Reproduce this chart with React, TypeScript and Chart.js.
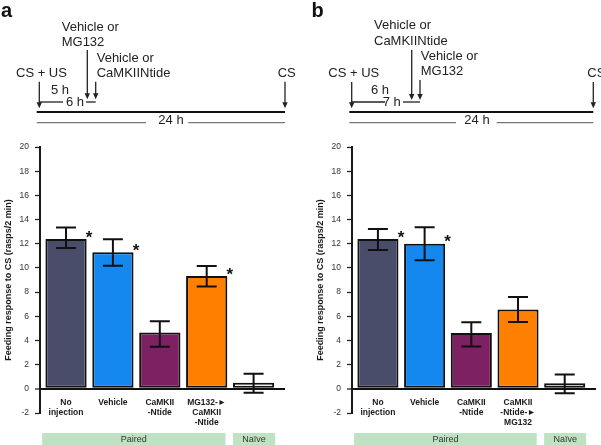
import React, { useEffect, useRef } from 'react';
import { Chart, registerables } from 'chart.js';

Chart.register(...registerables);

const FONT = "'Liberation Sans', Arial, Helvetica, sans-serif";

// ---- data ----
const labelsA: (string | string[])[] = [['No', 'injection'], 'Vehicle', ['CaMKII', '-Ntide'], ['MG132-►', 'CaMKII', '-Ntide'], ''];
const labelsB: (string | string[])[] = [['No', 'injection'], 'Vehicle', ['CaMKII', '-Ntide'], ['CaMKII', '-Ntide-►', 'MG132'], ''];
const meansA = [12.4, 11.3, 4.65, 9.33, 0.5];
const upperA = [13.35, 12.38, 5.58, 10.15, 1.24];
const lowerA = [11.65, 10.18, 3.48, 8.47, -0.33];
const starsA = [true, true, false, true, false];
const meansB = [12.4, 12.0, 4.62, 6.57, 0.47];
const upperB = [13.22, 13.36, 5.5, 7.6, 1.19];
const lowerB = [11.48, 10.63, 3.5, 5.52, -0.36];
const starsB = [true, true, false, false, false];
const barColors = ['#4a4d6a', '#1488ee', '#7d2163', '#ff8000', '#ffffff'];
const yMin = -2;
const yMax = 20;
const yStep = 2;
const groupNames = ['Paired', 'Naïve'];
const groupFrom = [-0.51, 3.56];
const groupTo = [3.4, 4.46];
const yTitle = 'Feeding response to CS (rasps/2 min)';

// ---- timeline annotations (layout) ----
type Txt = [string, number, number, CanvasTextAlign];
type Timeline = {
  letter: [string, number];
  texts: Txt[];
  arrows: [number, number, number][];
  thin: [number, number, number][];
  thick: [number, number, number];
  gray: [number, number, number][];
};

const timelineA: Timeline = {
  letter: ['a', 1],
  texts: [
    ['Vehicle or', 61.7, 30.7, 'left'],
    ['MG132', 61.7, 46, 'left'],
    ['Vehicle or', 96.7, 62.3, 'left'],
    ['CaMKIINtide', 96.7, 77.3, 'left'],
    ['CS + US', 16, 77.3, 'left'],
    ['CS', 277.7, 77.3, 'left'],
    ['5 h', 60, 94.3, 'center'],
    ['6 h', 75, 106, 'center'],
    ['24 h', 171, 124.3, 'center'],
  ],
  arrows: [[39.3, 81.7, 108.3], [87.3, 50, 99.3], [95.7, 81.7, 99.3], [285, 81.7, 108.3]],
  thin: [[39.3, 63, 102], [86, 95.7, 102]],
  thick: [36.7, 285, 112],
  gray: [[36.7, 146, 122.7], [188.3, 285, 122.7]],
};

const timelineB: Timeline = {
  letter: ['b', 11.5],
  texts: [
    ['Vehicle or', 74, 29.3, 'left'],
    ['CaMKIINtide', 74, 45, 'left'],
    ['Vehicle or', 120.7, 60, 'left'],
    ['MG132', 120.7, 75.3, 'left'],
    ['CS + US', 28.3, 77.3, 'left'],
    ['CS', 287.3, 77.3, 'left'],
    ['6 h', 80, 94, 'center'],
    ['7 h', 91.7, 106, 'center'],
    ['24 h', 177, 124.3, 'center'],
  ],
  arrows: [[51.7, 82, 108.3], [111.7, 50, 100], [120, 80, 100], [293.3, 82, 108.3]],
  thin: [[51.7, 85, 102], [103, 120, 102]],
  thick: [49.3, 293.3, 112],
  gray: [[49.3, 156, 122.7], [196.7, 293.3, 122.7]],
};

type PanelCfg = {
  labels: (string | string[])[];
  means: number[];
  upper: number[];
  lower: number[];
  stars: boolean[];
  timeline: Timeline;
  padLeft: number;
  padRight: number;
  width: number;
  left: number;
};

const panels: PanelCfg[] = [
  { labels: labelsA, means: meansA, upper: upperA, lower: lowerA, stars: starsA, timeline: timelineA, padLeft: 0, padRight: 15, width: 300, left: 0 },
  { labels: labelsB, means: meansB, upper: upperB, lower: lowerB, stars: starsB, timeline: timelineB, padLeft: 12, padRight: 5, width: 301, left: 300 },
];

function makePlugin(cfg: PanelCfg) {
  return {
    id: 'extras',
    afterDatasetsDraw(chart: any) {
      const ctx: CanvasRenderingContext2D = chart.ctx;
      const ys = chart.scales.y;
      const meta = chart.getDatasetMeta(0);
      ctx.save();
      ctx.strokeStyle = '#111';
      ctx.lineWidth = 2;
      meta.data.forEach((bar: any, i: number) => {
        const x = bar.x;
        const yt = ys.getPixelForValue(cfg.upper[i]);
        const yb = ys.getPixelForValue(cfg.lower[i]);
        ctx.beginPath();
        ctx.moveTo(x, yt);
        ctx.lineTo(x, yb);
        ctx.moveTo(x - 10, yt);
        ctx.lineTo(x + 10, yt);
        ctx.moveTo(x - 10, yb);
        ctx.lineTo(x + 10, yb);
        ctx.stroke();
        if (cfg.stars[i]) {
          ctx.fillStyle = '#111';
          ctx.font = `bold 17px ${FONT}`;
          ctx.textAlign = 'center';
          ctx.textBaseline = 'alphabetic';
          ctx.fillText('*', x + bar.width / 2 + 2.5, bar.y - 5.8 + 9.5);
        }
      });
      ctx.restore();
    },
    afterDraw(chart: any) {
      const ctx: CanvasRenderingContext2D = chart.ctx;
      const xs = chart.scales.x;
      ctx.save();
      // group boxes
      groupNames.forEach((name, g) => {
        const x1 = xs.getPixelForValue(groupFrom[g]);
        const x2 = xs.getPixelForValue(groupTo[g]);
        ctx.fillStyle = '#bfe3c2';
        ctx.fillRect(x1, 433, x2 - x1, 12);
        ctx.fillStyle = '#333';
        ctx.font = `9px ${FONT}`;
        ctx.textAlign = 'center';
        ctx.textBaseline = 'middle';
        ctx.fillText(name, (x1 + x2) / 2, 439.5);
      });
      // timeline
      const t = cfg.timeline;
      ctx.fillStyle = '#111';
      ctx.font = `bold 20px ${FONT}`;
      ctx.textAlign = 'left';
      ctx.textBaseline = 'alphabetic';
      ctx.fillText(t.letter[0], t.letter[1], 17);
      ctx.font = `13px ${FONT}`;
      ctx.fillStyle = '#222';
      t.texts.forEach(([s, x, y, a]) => {
        ctx.textAlign = a;
        ctx.fillText(s, x, y);
      });
      ctx.strokeStyle = '#222';
      ctx.lineWidth = 1.3;
      t.arrows.forEach(([x, y1, y2]) => {
        ctx.beginPath();
        ctx.moveTo(x, y1);
        ctx.lineTo(x, y2 - 5);
        ctx.stroke();
        ctx.beginPath();
        ctx.moveTo(x - 2.7, y2 - 6);
        ctx.lineTo(x + 2.7, y2 - 6);
        ctx.lineTo(x, y2);
        ctx.closePath();
        ctx.fill();
      });
      t.thin.forEach(([x1, x2, y]) => {
        ctx.beginPath();
        ctx.moveTo(x1, y);
        ctx.lineTo(x2, y);
        ctx.stroke();
      });
      ctx.lineWidth = 2.2;
      ctx.strokeStyle = '#111';
      ctx.beginPath();
      ctx.moveTo(t.thick[0], t.thick[2]);
      ctx.lineTo(t.thick[1], t.thick[2]);
      ctx.stroke();
      ctx.lineWidth = 1.3;
      ctx.strokeStyle = '#777';
      t.gray.forEach(([x1, x2, y]) => {
        ctx.beginPath();
        ctx.moveTo(x1, y);
        ctx.lineTo(x2, y);
        ctx.stroke();
      });
      ctx.restore();
    },
  };
}

function Panel({ cfg }: { cfg: PanelCfg }) {
  const ref = useRef<HTMLCanvasElement>(null);
  useEffect(() => {
    const chart = new Chart(ref.current as HTMLCanvasElement, {
      type: 'bar',
      data: {
        datasets: [
          {
            data: cfg.means.map((v, i) => ({ x: i, y: v })),
            backgroundColor: barColors,
            borderColor: '#111',
            borderWidth: 2,
            borderSkipped: false,
            barPercentage: 0.88,
            categoryPercentage: 1,
          } as any,
        ],
      },
      options: {
        responsive: false,
        animation: false,
        devicePixelRatio: 1,
        layout: { padding: { top: 147, bottom: 32, left: cfg.padLeft, right: cfg.padRight } },
        plugins: { legend: { display: false }, tooltip: { enabled: false } },
        scales: {
          x: {
            type: 'linear',
            position: { y: 0 },
            offset: false,
            min: -0.555,
            max: 4.67,
            afterBuildTicks: (s: any) => {
              s.ticks = cfg.labels.map((_, i) => ({ value: i }));
            },
            grid: { display: false, drawTicks: false, offset: false },
            border: { display: false },
            ticks: {
              autoSkip: false,
              maxRotation: 0,
              minRotation: 0,
              padding: 8.7,
              color: '#1a1a1a',
              font: { size: 8.5, weight: 'bold', family: FONT, lineHeight: 1.18 },
              callback: (v: any) => cfg.labels[Math.round(Number(v))] ?? '',
            },
          },
          y: {
            min: yMin,
            max: yMax,
            afterFit: (s: any) => {
              s.width = 40;
            },
            ticks: { stepSize: yStep, padding: 6, color: '#333', font: { size: 8.5, family: FONT } },
            grid: {
              drawOnChartArea: true,
              drawTicks: true,
              tickLength: 5,
              color: (c: any) => (c.tick && c.tick.value === 0 ? '#111' : 'rgba(0,0,0,0)'),
              lineWidth: (c: any) => (c.tick && c.tick.value === 0 ? 2 : 1),
              tickColor: '#222',
              tickWidth: 1.3,
            },
            border: { display: true, color: '#1a1a1a', width: 2 },
            title: {
              display: true,
              text: yTitle,
              color: '#1a1a1a',
              font: { size: 9, weight: 'bold', family: FONT },
              padding: { top: 3, bottom: 0 },
            },
          },
        },
      } as any,
      plugins: [makePlugin(cfg)],
    });
    return () => chart.destroy();
  }, []);
  return (
    <canvas
      ref={ref}
      width={cfg.width}
      height={445}
      style={{ position: 'absolute', left: cfg.left, top: 0, width: cfg.width, height: 445 }}
    />
  );
}

export default function App() {
  return (
    <div style={{ position: 'fixed', left: 0, top: 0, width: 601, height: 445, background: '#fff', overflow: 'hidden' }}>
      {panels.map((p, i) => (
        <Panel key={i} cfg={p} />
      ))}
    </div>
  );
}
